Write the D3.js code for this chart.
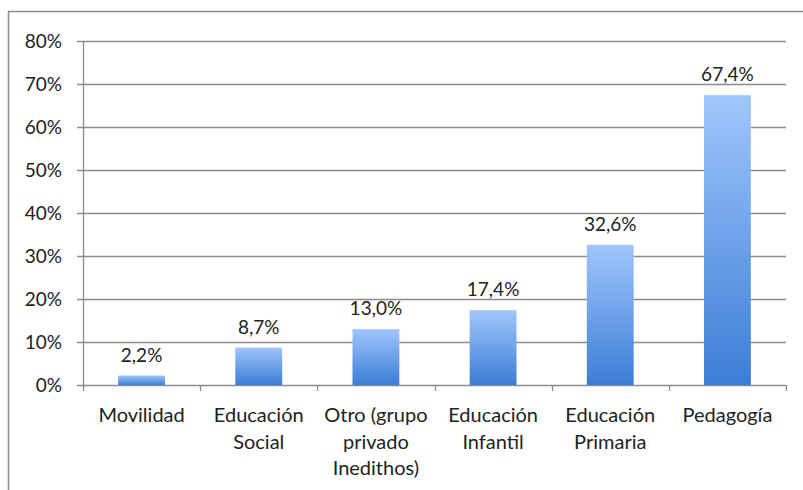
<!DOCTYPE html>
<html lang="es">
<head>
<meta charset="utf-8">
<title>Bar chart</title>
<script src="https://cdn.jsdelivr.net/npm/d3@7"></script>
<style>
  body { margin: 0; background: #fff; }
  text { font-family: Lato, "Open Sans", sans-serif; fill: #222; }
</style>
</head>
<body>
<script>
// data
var categories = [
  ["Movilidad"],
  ["Educación", "Social"],
  ["Otro (grupo", "privado", "Inedithos)"],
  ["Educación", "Infantil"],
  ["Educación", "Primaria"],
  ["Pedagogía"]
];
var values = [2.2, 8.7, 13.0, 17.4, 32.6, 67.4];
var yTicks = [0, 10, 20, 30, 40, 50, 60, 70, 80];

var w = 803, h = 490;
var margin = {top: 41, right: 17, bottom: 105, left: 83};

var svg = d3.select("body").append("svg")
  .attr("width", w)
  .attr("height", h);

// outer frame (runs off the right and bottom edges)
svg.append("rect")
  .attr("x", 8.5).attr("y", 11.5)
  .attr("width", w + 20).attr("height", h + 20)
  .attr("fill", "none")
  .attr("stroke", "#8a8a8a")
  .attr("stroke-width", 1.5);

var grad = svg.append("defs").append("linearGradient")
  .attr("id", "barGrad")
  .attr("x1", 0).attr("y1", 0).attr("x2", 0).attr("y2", 1);
grad.append("stop").attr("offset", "0%").attr("stop-color", "#a0c6fd");
grad.append("stop").attr("offset", "100%").attr("stop-color", "#3c7dd5");

var x = d3.scaleBand()
  .domain(d3.range(values.length))
  .range([margin.left, w - margin.right])
  .paddingInner(0.6)
  .paddingOuter(0.3);

var y = d3.scaleLinear()
  .domain([0, 80])
  .range([h - margin.bottom, margin.top]);

// gridlines
svg.append("g")
  .selectAll("line")
  .data(yTicks)
  .enter().append("line")
  .attr("x1", margin.left - 6)
  .attr("x2", w - margin.right)
  .attr("y1", function(d) { return Math.round(y(d)) + 0.5; })
  .attr("y2", function(d) { return Math.round(y(d)) + 0.5; })
  .attr("stroke", "#8c8c8c")
  .attr("stroke-width", 1.3);

// y axis line
svg.append("line")
  .attr("x1", margin.left + 0.5).attr("x2", margin.left + 0.5)
  .attr("y1", y(80)).attr("y2", y(0))
  .attr("stroke", "#8c8c8c")
  .attr("stroke-width", 1.3);

// y tick labels
svg.append("g")
  .selectAll("text")
  .data(yTicks)
  .enter().append("text")
  .attr("x", margin.left - 21)
  .attr("y", function(d) { return y(d); })
  .attr("dy", "0.35em")
  .attr("text-anchor", "end")
  .style("font-size", "19px")
  .text(function(d) { return d + "%"; });

// x category ticks
var xTickPos = d3.range(values.length + 1).map(function(i) {
  return margin.left + i * (w - margin.right - margin.left) / values.length;
});
svg.append("g")
  .selectAll("line")
  .data(xTickPos)
  .enter().append("line")
  .attr("x1", function(d) { return Math.round(d) + 0.5; })
  .attr("x2", function(d) { return Math.round(d) + 0.5; })
  .attr("y1", y(0))
  .attr("y2", y(0) + 6)
  .attr("stroke", "#8c8c8c")
  .attr("stroke-width", 1.3);

// bars
svg.append("g")
  .selectAll("rect")
  .data(values)
  .enter().append("rect")
  .attr("x", function(d, i) { return x(i); })
  .attr("y", function(d) { return y(d); })
  .attr("width", x.bandwidth())
  .attr("height", function(d) { return y(0) - y(d); })
  .attr("fill", "url(#barGrad)");

// value labels
svg.append("g")
  .selectAll("text")
  .data(values)
  .enter().append("text")
  .attr("x", function(d, i) { return x(i) + x.bandwidth() / 2; })
  .attr("y", function(d) { return y(d) - 14; })
  .attr("text-anchor", "middle")
  .style("font-size", "19px")
  .text(function(d) { return d.toFixed(1).replace(".", ",") + "%"; });

// category labels
var cat = svg.append("g")
  .selectAll("text")
  .data(categories)
  .enter().append("text")
  .attr("x", function(d, i) { return x(i) + x.bandwidth() / 2; })
  .attr("y", y(0) + 37)
  .attr("text-anchor", "middle")
  .style("font-size", "20px");

cat.selectAll("tspan")
  .data(function(d) { return d; })
  .enter().append("tspan")
  .attr("x", function() { return d3.select(this.parentNode).attr("x"); })
  .attr("dy", function(d, i) { return i === 0 ? 0 : 26.5; })
  .text(function(d) { return d; });
</script>
</body>
</html>
